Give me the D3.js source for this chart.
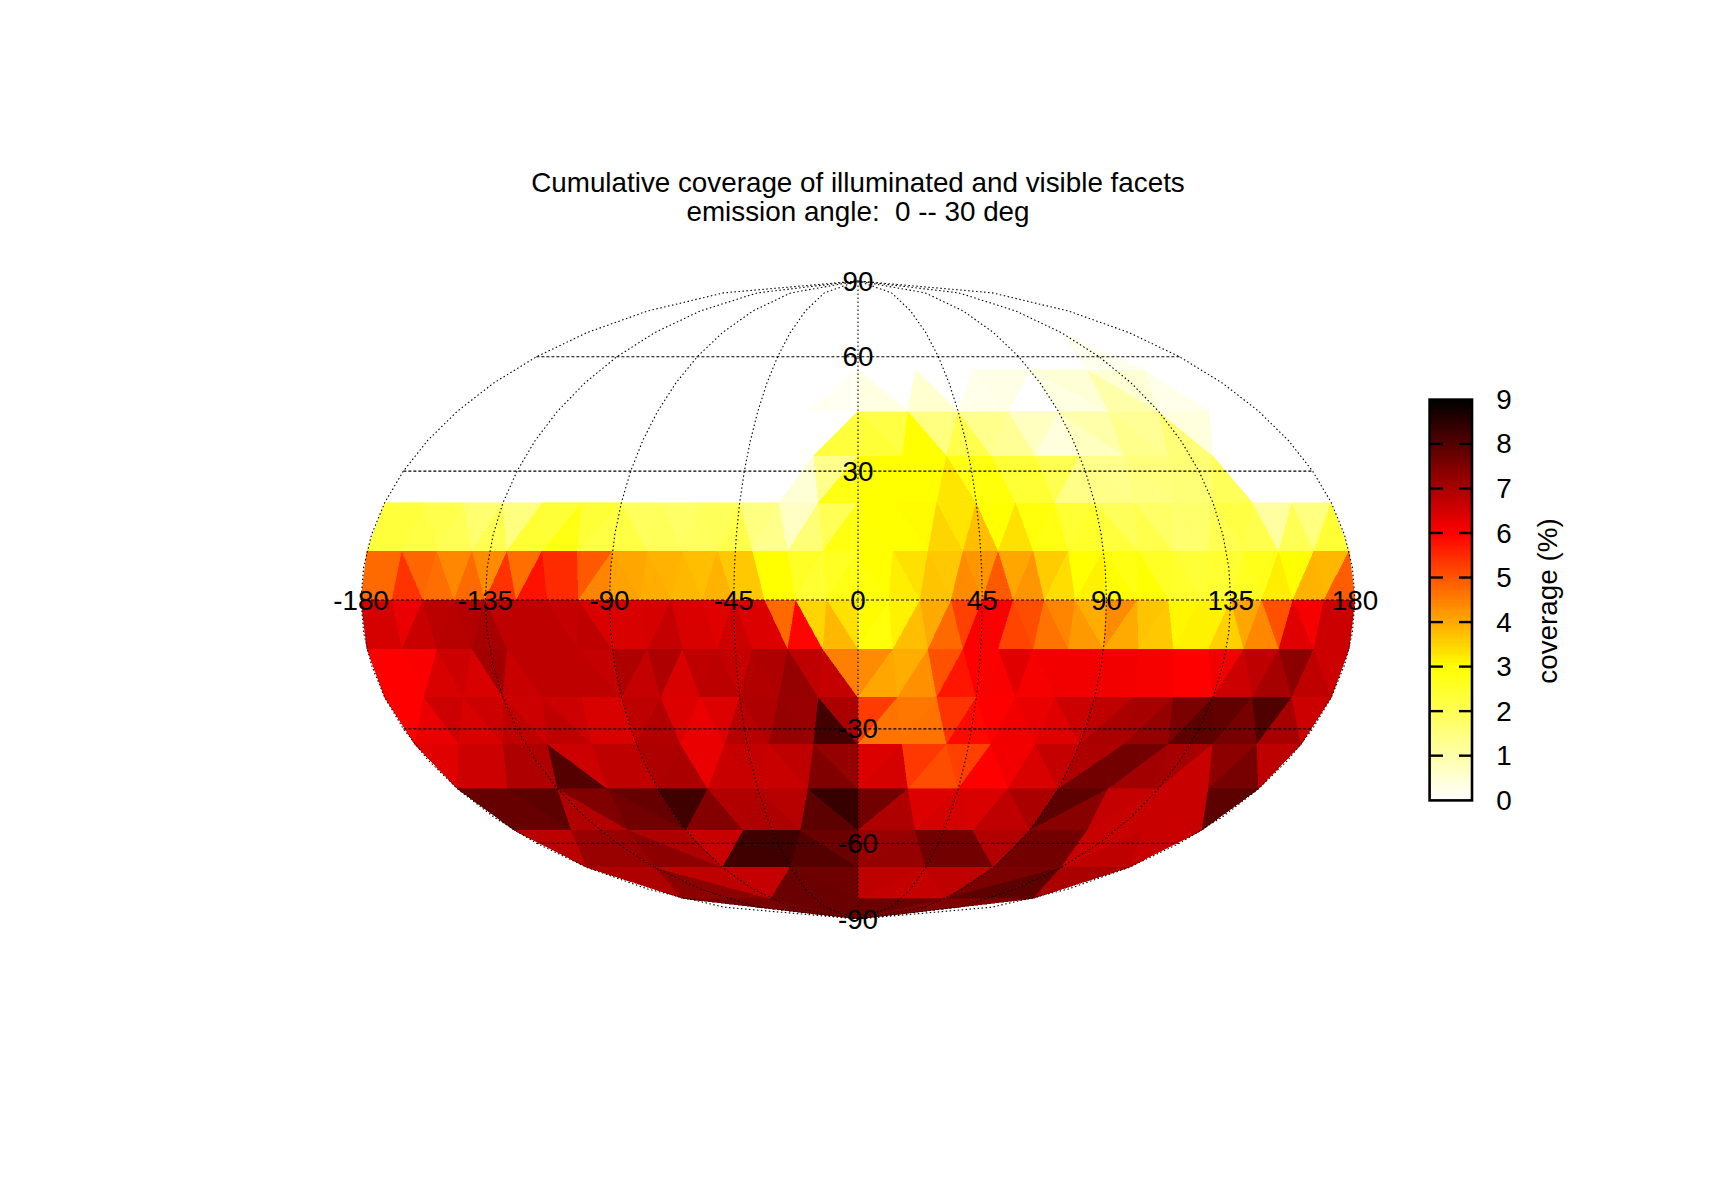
<!DOCTYPE html>
<html><head><meta charset="utf-8">
<script src="https://cdn.jsdelivr.net/npm/d3@7"></script>
<style>html,body{margin:0;background:#fff}svg{display:block}text{font-family:"Liberation Sans",Arial,sans-serif;fill:#000;white-space:pre}</style>
</head><body><svg id="c" width="1716" height="1200"></svg>
<script>
const titleLines=["Cumulative coverage of illuminated and visible facets","emission angle:  0 -- 30 deg"];
const colorbarLabel="coverage (%)";
const colorbarTicks=[0,1,2,3,4,5,6,7,8,9];
const lonTicks=[-180,-135,-90,-45,0,45,90,135,180];
const latTicks=[90,60,30,-30,-60,-90];
const gridLons=[-180,-135,-90,-45,0,45,90,135,180];
const gridLats=[-60,-30,0,30,60];
const bandLats=[0,11.25,22.5,33.75,45,56.25,67.5,78.75,90];
const bandCounts=[32,28,24,20,16,12,8,4,0];

const north0=[4.75,4.75,5.4,4.8,4.7,4.4,4.75,4.35,5.4,4.7,5.8,5.5,5.5,4.95,4.45,4.1,4.05,3.95,3.9,3.85,3.75,3.9,3.65,3.65,3.0,3.0,2.55,2.4,2.6,2.75,
2.9,3.0,3.2,3.35,3.7,3.65,4.35,4.25,4.95,4.05,4.25,3.6,3.4,3.0,3.15,3.0,2.8,2.95,2.55,2.5,2.35,2.4,2.4,2.6,2.7,3.2,2.95,3.9,3.85,4.9];
const north1=[2.3,2.3,2.2,2.1,2.0,1.7,2.05,1.5,2.4,2.35,2.8,2.35,2.2,2.2,1.9,1.95,1.8,1.9,1.95,2.1,1.5,1.35,0.7,1.6,2.0,2.8,
2.95,3.0,3.0,3.05,3.5,3.3,3.75,3.0,3.35,2.9,2.8,2.4,2.5,2.3,1.95,2.1,1.8,1.7,1.75,2.05,2.2,2.1,1.1,2.0,1.5,2.4];
const north2=[0,0,0,0,0,0,0,0,0,0,0,0,0,0,0,0,0,0,0,0.5,1.35,2.8,
3.0,3.0,3.0,3.0,3.3,2.8,2.9,2.35,2.4,2.05,1.4,1.4,1.35,1.5,1.55,1.6,1.65,1.95,0,0,0,0];
const north3=[0,0,0,0,0,0,0,0,0,0,0,0,0,0,0,0,0,2.3,
2.35,2.2,3.0,1.5,2.1,1.35,1.25,0.75,0.4,0.75,1.0,1.35,1.25,1.6,0.4,0,0,0];
const north4=[0,0,0,0,0,0,0,0,0,0,0,0,0,0.15,
0.35,0,0.55,0,0.25,0.3,0,0.35,0.5,1.0,0.5,0.25,0,0];
const north5=[0,0,0,0,0,0,0,0,0,0,0,0,0,0,0,0,0,0.2,0,0];
const north6=[0,0,0,0,0,0,0,0,0,0,0,0];
const north7=[0,0,0,0];

const south0=[6.5,6.5,6.25,6.65,6.8,6.85,6.9,7.05,6.75,6.75,6.75,6.75,6.7,6.75,6.45,6.45,6.45,6.5,6.7,6.45,6.45,6.35,6.6,6.4,6.4,4.75,5.95,3.5,3.85,3.35,
3.05,2.9,3.15,3.75,4.0,4.75,5.25,6.05,6.05,5.2,5.1,4.65,4.45,4.2,3.95,4.35,4.0,3.7,3.65,3.1,3.15,3.15,3.55,4.05,4.4,5.05,6.35,6.1,6.6,6.6];
const south1=[6.0,6.0,6.05,6.45,6.6,6.45,7.1,6.65,6.75,6.75,6.75,6.75,6.7,6.95,6.7,6.95,6.45,6.75,6.8,6.7,6.9,6.95,7.25,6.75,6.7,4.5,
4.35,4.05,3.95,4.3,5.05,5.75,6.0,6.05,6.35,6.1,6.15,6.15,6.15,6.15,6.15,6.1,6.1,6.0,6.0,6.15,6.6,6.75,7.05,7.35,6.75,6.6];
const south2=[6.0,6.25,6.6,6.45,6.6,6.75,6.6,6.75,6.6,6.45,6.45,6.75,6.9,6.4,6.25,6.4,6.85,6.95,7.25,7.2,8.2,7.0,
5.3,4.65,4.6,4.65,5.4,5.9,6.0,6.15,6.25,6.35,6.6,6.75,7.0,7.05,7.25,7.55,7.9,7.85,7.6,8.05,7.05,6.6];
const south3=[6.35,6.6,6.6,6.95,6.95,8.0,6.6,6.75,6.75,6.95,7.0,6.25,6.65,6.7,6.65,6.75,7.5,7.25,
6.4,6.5,5.35,5.1,5.25,6.0,6.15,6.45,6.7,6.95,7.65,7.65,7.1,7.05,6.65,7.35,7.6,6.75];
const south4=[7.8,7.8,7.9,6.9,7.5,7.65,7.8,8.25,7.45,6.9,6.95,6.85,7.9,8.35,
7.65,6.95,6.4,6.5,6.45,6.75,7.0,7.9,7.4,6.7,6.65,6.65,6.65,7.9];
const south5=[6.8,7.2,7.2,7.35,6.95,6.65,8.25,8.25,8.0,7.75,
7.2,7.25,7.65,7.65,6.9,7.65,7.65,6.65,6.75,6.65];
const south6=[6.95,7.35,6.75,6.7,7.75,7.7,6.75,6.7,6.75,7.55,7.9,7.0];
const south7=[7.6,7.75,7.75,7.5];

const northStrips=[north0,north1,north2,north3,north4,north5,north6,north7];
const southStrips=[south0,south1,south2,south3,south4,south5,south6,south7];

const svg=d3.select("#c");
const color=d3.scaleLinear().domain([0,3,6,9]).range(["#ffffff","#ffff00","#ff0000","#000000"]).clamp(true);
const sx=d3.scaleLinear().domain([-1,1]).range([361,1355]);
const sy=d3.scaleLinear().domain([-1,1]).range([919,281]);
function theta(lat){
  const phi=lat*Math.PI/180;
  if(Math.abs(lat)===90) return Math.sign(lat)*Math.PI/2;
  let t=phi;
  for(let i=0;i<60;i++){t-=(2*t+Math.sin(2*t)-Math.PI*Math.sin(phi))/(2+2*Math.cos(2*t));}
  return t;
}
const proj=(lon,lat)=>{const t=theta(lat);return [sx(lon/180*Math.cos(t)),sy(Math.sin(t))];};

function stripTriangles(latA,nA,latB,nB){
  const A=k=>[-180+360*k/nA,latA];
  const B=k=>nB?[-180+360*k/nB,latB]:[0,latB];
  const out=[];let i=0,j=0;
  while(i<nA||j<nB){
    const an=-180+360*(i+1)/nA, bn=nB?-180+360*(j+1)/nB:Infinity;
    if(j<nB&&(i>=nA||bn<=an+1e-9)){out.push([A(i),B(j),B(j+1)]);j++;}
    else{out.push([A(i),A(i+1),B(j)]);i++;}
  }
  return out;
}
const facets=[];
[[northStrips,1],[southStrips,-1]].forEach(([strips,s])=>{
  strips.forEach((vals,k)=>{
    stripTriangles(s*bandLats[k],bandCounts[k],s*bandLats[k+1],bandCounts[k+1]).forEach((tri,m)=>{
      facets.push({tri,v:vals[m]});
    });
  });
});
svg.append("g").attr("shape-rendering","crispEdges").selectAll("path")
  .data(facets.filter(d=>d.v>0)).join("path")
  .attr("d",d=>"M"+d.tri.map(p=>proj(p[0],p[1]).join(",")).join("L")+"Z")
  .attr("fill",d=>color(d.v)).attr("stroke",d=>color(d.v)).attr("stroke-width",0.6);

const line=d3.line();
const g=svg.append("g").attr("fill","none").attr("stroke","#000");
const meridianLats=d3.range(-90,90.1,7.5);
g.selectAll("path.m").data(gridLons).join("path").attr("class","m")
  .attr("d",lon=>line(meridianLats.map(la=>proj(lon,la))))
  .attr("stroke-width",1.1).attr("stroke-dasharray","1.5,2.5");
g.selectAll("path.p").data(gridLats).join("path").attr("class","p")
  .attr("d",la=>line([proj(-180,la),proj(180,la)]))
  .attr("stroke-width",1.1).attr("stroke-dasharray","3,2");

const tickFont=27.8;
svg.append("g").selectAll("text").data(lonTicks).join("text")
  .attr("x",d=>proj(d,0)[0]).attr("y",proj(0,0)[1]+9.5).attr("text-anchor","middle")
  .attr("font-size",tickFont).text(d=>d);
svg.append("g").selectAll("text").data(latTicks).join("text")
  .attr("x",proj(0,0)[0]).attr("y",d=>proj(0,d)[1]+9.5).attr("text-anchor","middle")
  .attr("font-size",tickFont).text(d=>d);

svg.append("g").selectAll("text").data(titleLines).join("text")
  .attr("x",858).attr("y",(d,i)=>192+i*28.5).attr("text-anchor","middle")
  .attr("font-size",27.8).text(d=>d);

const cy=d3.scaleLinear().domain([0,9]).range([800.2,399.4]);
const cb=svg.append("g");
const stops=d3.range(0,9,0.05);
cb.append("g").attr("shape-rendering","crispEdges").selectAll("rect").data(stops).join("rect")
  .attr("x",1429.6).attr("width",42.4).attr("y",d=>cy(d+0.05)).attr("height",d=>cy(d)-cy(d+0.05)+0.5)
  .attr("fill",d=>color(d+0.025));
cb.append("rect").attr("x",1429.6).attr("y",399.6).attr("width",42.4).attr("height",400.8)
  .attr("fill","none").attr("stroke","#000").attr("stroke-width",2.6);
colorbarTicks.slice(1,-1).forEach(t=>{
  cb.append("line").attr("x1",1429).attr("x2",1443).attr("y1",cy(t)).attr("y2",cy(t)).attr("stroke","#000").attr("stroke-width",2.4);
  cb.append("line").attr("x1",1459).attr("x2",1473).attr("y1",cy(t)).attr("y2",cy(t)).attr("stroke","#000").attr("stroke-width",2.4);
});
cb.selectAll("text.t").data(colorbarTicks).join("text").attr("class","t")
  .attr("x",1504).attr("y",d=>cy(d)+9.5).attr("text-anchor","middle").attr("font-size",tickFont).text(d=>d);
cb.append("text").attr("transform","translate(1557,601) rotate(-90)").attr("text-anchor","middle")
  .attr("font-size",27.8).text(colorbarLabel);
</script></body></html>
